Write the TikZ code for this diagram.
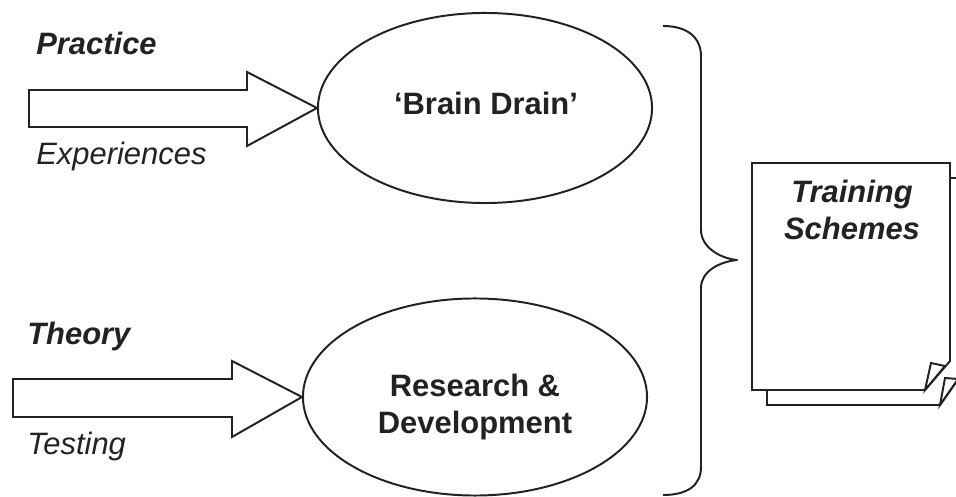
\documentclass[tikz,border=0pt]{standalone}
\usepackage{fontspec}
\setmainfont{Liberation Sans}
\usetikzlibrary{shapes.geometric}
\definecolor{ink}{HTML}{222222}
\tikzset{
  lw/.style={line width=1.4pt, draw=ink, line join=miter},
  oval/.style={ellipse, lw, inner sep=0pt},
  lbl/.style={anchor=base west, inner sep=0pt, text=ink, font=\fontsize{22}{26}\selectfont},
  ctr/.style={anchor=base, inner sep=0pt, text=ink, font=\fontsize{22}{26}\selectfont\bfseries},
  bigarrow/.style={lw, fill=white},
  page/.style={lw, fill=white}
}
\begin{document}
\begin{tikzpicture}[x=0.025cm,y=-0.025cm]
\useasboundingbox (0,0) rectangle (956,497);
% ellipses
\node[oval, minimum width=8.35cm, minimum height=4.75cm] (bd) at (485,108) {};
\node[oval, minimum width=8.6cm, minimum height=4.925cm] (rd) at (475,397) {};
\node[ctr] (bdt) at (486,115) {`Brain Drain'};
\node[ctr] (rdt1) at (475,397) {Research \&};
\node[ctr] (rdt2) at (475,434) {Development};
% block arrows
\draw[bigarrow] (29,90) -- (247,90) -- (247,72) -- (bd.west) -- (247,146) -- (247,127) -- (29,127) -- cycle;
\draw[bigarrow] (13,379) -- (232,379) -- (232,361) -- (rd.west) -- (232,437) -- (232,417) -- (13,417) -- cycle;
% labels
\node[lbl, font=\fontsize{22}{26}\selectfont\bfseries\itshape] (pr) at (36,55) {Practice};
\node[lbl, font=\fontsize{22}{26}\selectfont\itshape] (ex) at (36,165) {Experiences};
\node[lbl, font=\fontsize{22}{26}\selectfont\bfseries\itshape] (th) at (27,345) {Theory};
\node[lbl, font=\fontsize{22}{26}\selectfont\itshape] (te) at (27,455) {Testing};
% brace
\coordinate (btip) at (737,260);
\draw[lw, line join=round] (663,26) .. controls (688,26) and (701,38) .. (701,56) -- (701,230)
  .. controls (701,246) and (718,258) .. (btip)
  .. controls (718,262) and (701,272) .. (701,288) -- (701,467)
  .. controls (701,485) and (688,495) .. (663,495);
% document icon
\draw[page] (767,178) -- (962,178) -- (962,374) -- (940,405) -- (767,405) -- cycle;
\draw[page] (940,405) -- (945,378) -- (958,379) -- cycle;
\draw[page] (752,163) -- (950,163) -- (950,361) -- (925,390) -- (752,390) -- cycle;
\draw[page] (925,390) -- (931,363) -- (945,366) -- cycle;
\node[ctr, font=\fontsize{22}{26}\selectfont\bfseries\itshape] (ts1) at (852,203) {Training};
\node[ctr, font=\fontsize{22}{26}\selectfont\bfseries\itshape] (ts2) at (852,240) {Schemes};
\end{tikzpicture}
\end{document}
